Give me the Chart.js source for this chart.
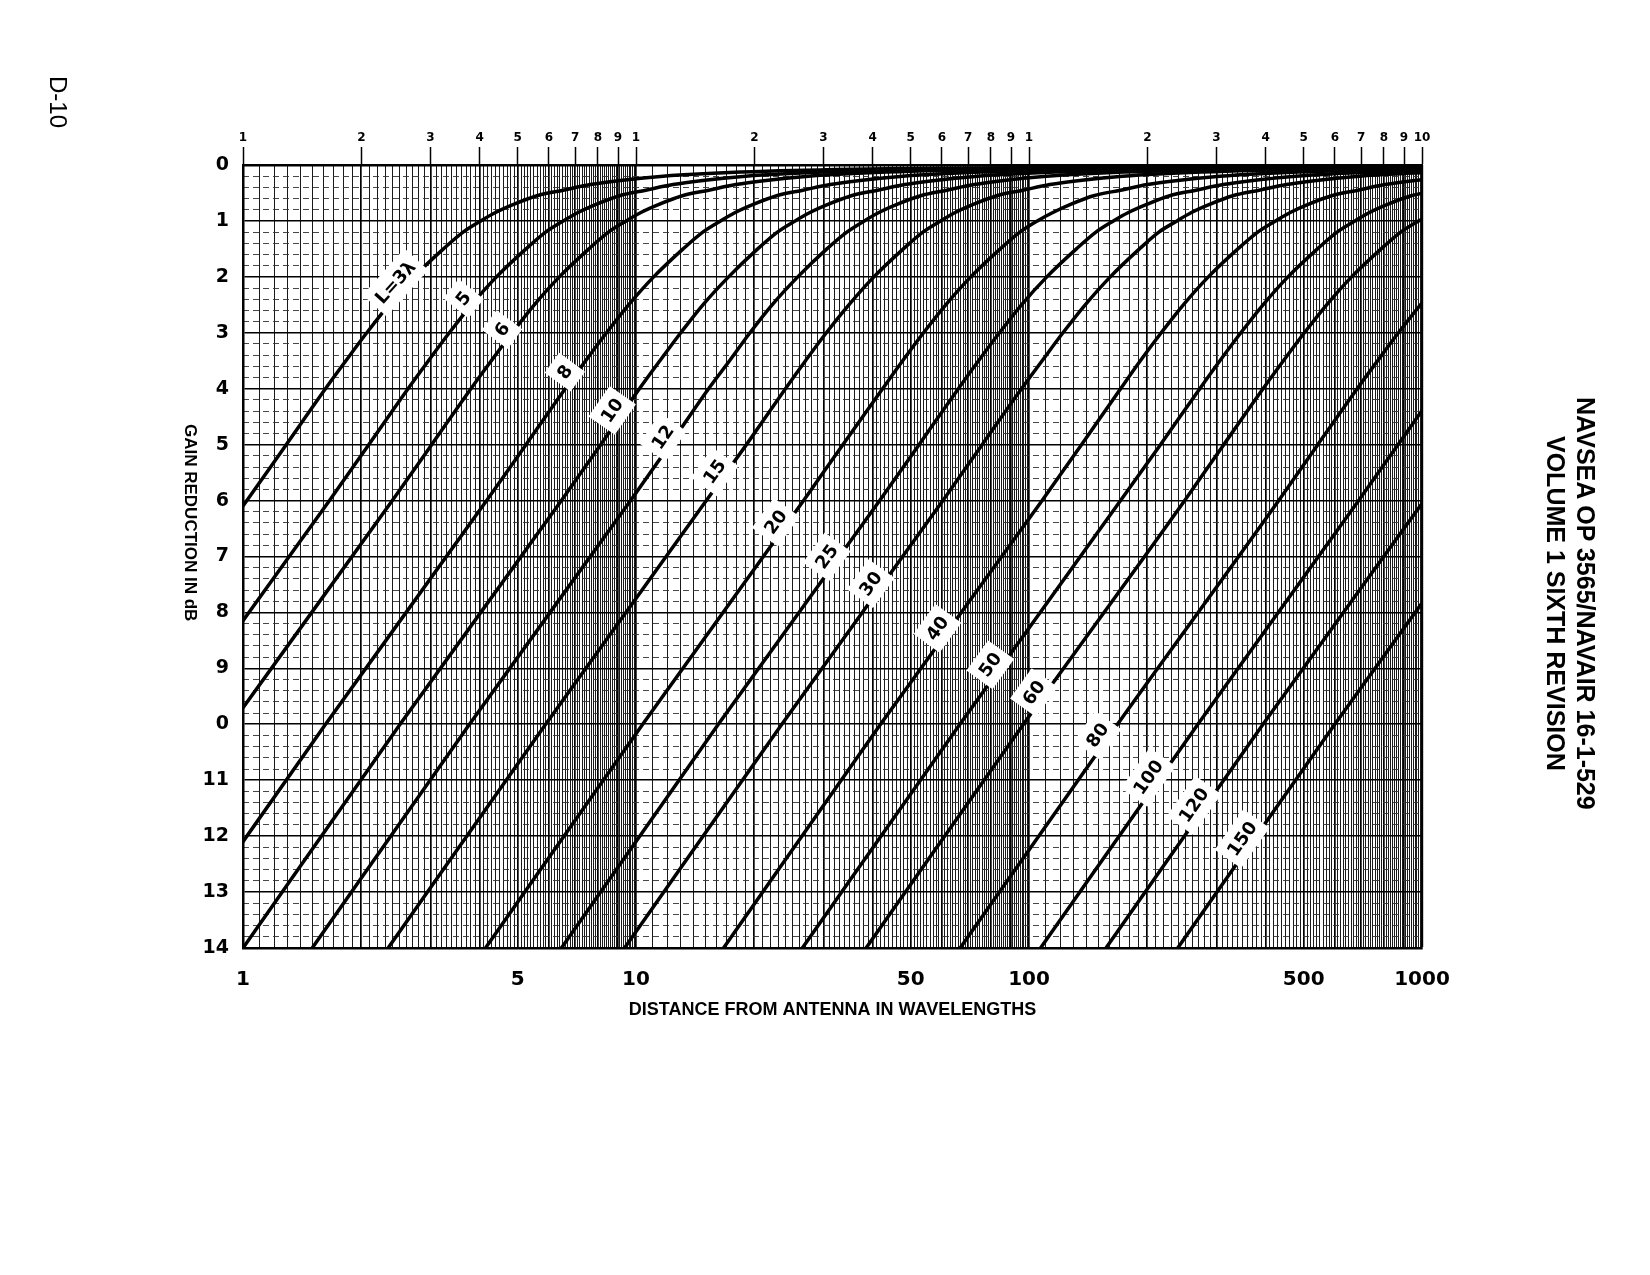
<!DOCTYPE html>
<html>
<head>
<meta charset="utf-8">
<title>Gain reduction vs distance from antenna</title>
<script src="https://cdn.jsdelivr.net/npm/chart.js@4.4.1/dist/chart.umd.min.js"></script>
<style>
  body { margin: 0; background: #fff; }
  #wrap { position: relative; width: 1650px; height: 1275px; overflow: hidden; }
  #grafico { position: absolute; left: 0; top: 0; }
  .vtext { position: absolute; writing-mode: vertical-rl; color: #000; white-space: nowrap; text-align: center;
           font-family: "Liberation Sans", Arial, sans-serif; }
  #pagina { left: 44px; top: 76px; font-size: 24px; font-weight: normal; line-height: 28px; }
  #referencia { left: 1541px; top: 353px; height: 500px; font-size: 25px; font-weight: bold; line-height: 30px; }
  #tituloY { left: 180px; top: 373px; height: 300px; font-size: 17px; font-weight: bold; line-height: 20px; }
</style>
</head>
<body>
<div id="wrap">
  <canvas id="grafico" width="1650" height="1275"></canvas>
  <div id="pagina" class="vtext">D-10</div>
  <div id="referencia" class="vtext">NAVSEA OP 3565/NAVAIR 16-1-529<br>VOLUME 1 SIXTH REVISION</div>
  <div id="tituloY" class="vtext">GAIN REDUCTION IN dB</div>
</div>
<script>
const gainLevels = [14, 10, 6, 5, 4, 3.5, 3, 2.5, 2, 1.5, 1.2, 1, 0.85, 0.7, 0.55, 0.45, 0.35, 0.28, 0.2, 0.16, 0.1, 0.06, 0.04, 0.02];

// distance from antenna (wavelengths) at those gain levels, one list per antenna length L
const distL3   = [0.158, 0.398, 1.023, 1.288, 1.621, 1.827, 2.065, 2.350, 2.723, 3.236, 3.631, 4.027, 4.390, 4.898, 5.598, 6.532, 7.657, 9.017, 11.72, 14.39, 25.12, 56.23, 158.5, 1259];
const distL5   = [0.257, 0.646, 1.660, 2.089, 2.630, 2.964, 3.349, 3.812, 4.416, 5.249, 5.889, 6.531, 7.120, 7.943, 9.079, 10.59, 12.42, 14.62, 19.01, 23.33, 40.74, 91.20, 257.0, 2042];
const distL6   = [0.372, 0.933, 2.399, 3.020, 3.801, 4.284, 4.841, 5.510, 6.383, 7.587, 8.512, 9.441, 10.29, 11.48, 13.12, 15.31, 17.95, 21.14, 27.48, 33.73, 58.89, 131.8, 371.5, 2951];
const distL8   = [0.646, 1.622, 4.169, 5.248, 6.605, 7.444, 8.413, 9.575, 11.09, 13.18, 14.79, 16.41, 17.88, 19.95, 22.80, 26.61, 31.19, 36.73, 47.75, 58.61, 102.3, 229.1, 645.7, 5128];
const distL10  = [1.0, 2.51, 6.46, 8.13, 10.2, 11.5, 13.0, 14.8, 17.2, 20.4, 22.9, 25.4, 27.7, 30.9, 35.3, 41.2, 48.3, 56.9, 74.0, 90.8, 158, 355, 1000, 7940];
const distL12  = [1.50, 3.77, 9.69, 12.2, 15.3, 17.3, 19.5, 22.2, 25.8, 30.6, 34.4, 38.1, 41.5, 46.3, 53.0, 61.8, 72.5, 85.3, 111, 136, 238, 532, 1500];
const distL15  = [2.34, 5.89, 15.1, 19.1, 24.0, 27.0, 30.5, 34.8, 40.3, 47.9, 53.7, 59.6, 64.9, 72.4, 82.8, 96.6, 113, 133, 173, 213, 372, 832, 2344];
const distL20  = [4.14, 10.4, 26.7, 33.6, 42.4, 47.7, 53.9, 61.4, 71.1, 84.5, 94.8, 105, 115, 128, 146, 171, 200, 236, 306, 376, 656, 1469];
const distL25  = [6.46, 16.2, 41.7, 52.5, 66.1, 74.4, 84.1, 95.7, 111, 132, 148, 164, 179, 200, 228, 266, 312, 367, 478, 586, 1023];
const distL30  = [9.35, 23.5, 60.4, 76.0, 95.7, 108, 122, 139, 161, 191, 214, 238, 259, 289, 330, 385, 452, 532, 692, 849, 1483];
const distL40  = [16.7, 41.9, 108, 136, 171, 192, 217, 247, 286, 340, 382, 424, 462, 515, 589, 687, 805, 948, 1233];
const distL50  = [26.5, 66.7, 171, 216, 272, 306, 346, 394, 456, 542, 608, 675, 735, 820, 938, 1094];
const distL60  = [38.5, 96.8, 249, 313, 394, 444, 502, 572, 662, 787, 883, 980, 1068];
const distL80  = [66.8, 168, 432, 543, 684, 771, 871, 991, 1148];
const distL100 = [107, 269, 690, 869, 1094];
const distL120 = [157, 394, 1012];
const distL150 = [239, 600, 1542];

const curveLabels = ['L=3λ', '5', '6', '8', '10', '12', '15', '20', '25', '30', '40', '50', '60', '80', '100', '120', '150'];
const curveDists = [distL3, distL5, distL6, distL8, distL10, distL12, distL15, distL20, distL25,
                    distL30, distL40, distL50, distL60, distL80, distL100, distL120, distL150];

// gain reduction at which each curve carries its label
const labelGain = [2.22, 2.50, 3.05, 3.81, 4.49, 4.97, 5.59, 6.49, 7.11, 7.59, 8.39, 9.04, 9.54, 10.30, 11.05, 11.55, 12.15];

// axis labels as printed
const bottomTickLabels = [1, 5, 10, 50, 100, 500, 1000];
const topTickLabels = ['1', '2', '3', '4', '5', '6', '7', '8', '9',
                       '1', '2', '3', '4', '5', '6', '7', '8', '9',
                       '1', '2', '3', '4', '5', '6', '7', '8', '9', '10'];
const gainTickLabels = ['0', '1', '2', '3', '4', '5', '6', '7', '8', '9', '0', '11', '12', '13', '14'];

// grid positions of the log paper: 1.0, 1.1 ... 9.9 in each decade
const gridDist = [];
const topTickValues = [];
for (let n = 0; n < 3; n++) {
  for (let k = 10; k < 100; k++) gridDist.push({ value: k * Math.pow(10, n) / 10, major: k % 10 === 0 });
  for (let k = 1; k < 10; k++) topTickValues.push(k * Math.pow(10, n));
}
gridDist.push({ value: 1000, major: true });
topTickValues.push(1000);

const gainMajor = [];
const gainMinor = [];
for (let i = 0; i <= 70; i++) {
  if (i % 5 === 0) gainMajor.push({ value: i / 5 });
  else gainMinor.push({ value: i / 5 });
}

const fonteNum = { family: 'DejaVu Sans', weight: 'bold' };

// rotulos das curvas: caixa branca girada ao longo da linha
const rotulosCurvas = {
  id: 'rotulosCurvas',
  afterDatasetsDraw(chart) {
    const { ctx, scales: { y } } = chart;
    ctx.save();
    ctx.font = 'bold 18px "DejaVu Sans"';
    ctx.textAlign = 'center';
    ctx.textBaseline = 'middle';
    curveLabels.forEach((txt, i) => {
      const py = y.getPixelForValue(labelGain[i]);
      const pts = chart.getDatasetMeta(i).data;
      let px = null;
      let ang = -0.96;
      for (let k = 1; k < pts.length; k++) {
        const a = pts[k - 1], b = pts[k];
        if (!a || !b || !isFinite(a.y) || !isFinite(b.y) || !isFinite(a.x) || !isFinite(b.x)) continue;
        if (a.y >= py && b.y <= py) {
          const t = (a.y - py) / ((a.y - b.y) || 1);
          px = a.x + t * (b.x - a.x);
          ang = Math.atan2(b.y - a.y, b.x - a.x);
          break;
        }
      }
      if (px === null) return;
      // o rotulo fica um pouco acima/esquerda da linha
      const cx = px + Math.sin(ang) * 10;
      const cy = py - Math.cos(ang) * 10;
      const w = ctx.measureText(txt).width;
      ctx.save();
      ctx.translate(cx, cy);
      ctx.rotate(ang);
      ctx.fillStyle = '#fff';
      ctx.fillRect(-w / 2 - 6, -16, w + 12, 32);
      ctx.fillStyle = '#000';
      ctx.fillText(txt, 0, 1);
      ctx.restore();
    });
    ctx.restore();
  }
};

const datasets = curveDists.map((dist, i) => ({
  label: curveLabels[i],
  xAxisID: 'x',
  yAxisID: 'y',
  data: dist.map((d, k) => ({ x: d, y: gainLevels[k] })),
  borderColor: '#000',
  borderWidth: 3.5,
  pointRadius: 0,
  fill: false,
  cubicInterpolationMode: 'monotone'
}));

new Chart(document.getElementById('grafico').getContext('2d'), {
  type: 'line',
  data: { datasets },
  plugins: [rotulosCurvas],
  options: {
    responsive: false,
    devicePixelRatio: 1,
    animation: false,
    layout: { padding: { left: 0, right: 228, top: 120, bottom: 254 } },
    plugins: { legend: { display: false }, tooltip: { enabled: false } },
    scales: {
      x: {
        type: 'logarithmic',
        position: 'bottom',
        min: 1,
        max: 1000,
        afterBuildTicks: s => { s.ticks = gridDist.map(t => ({ value: t.value, major: t.major })); },
        afterFit: s => { s.height = 73; },
        grid: {
          drawTicks: false,
          color: '#000',
          lineWidth: c => c.tick ? (c.tick.value === 1000 ? 2.2 : c.tick.major ? 1.7 : 0.9) : 1
        },
        border: { color: '#000', width: 2.5 },
        ticks: {
          autoSkip: false,
          maxRotation: 0,
          padding: 20,
          color: '#000',
          font: { ...fonteNum, size: 20 },
          callback: v => bottomTickLabels.find(b => Math.abs(b - v) < 1e-6) ? String(v) : ''
        },
        title: {
          display: true,
          text: 'DISTANCE FROM ANTENNA IN WAVELENGTHS',
          color: '#000',
          padding: 0,
          font: { family: 'Liberation Sans', size: 18, weight: 'bold' }
        }
      },
      xTop: {
        type: 'logarithmic',
        position: 'top',
        min: 1,
        max: 1000,
        afterBuildTicks: s => { s.ticks = topTickValues.map(v => ({ value: v })); },
        afterFit: s => { s.height = 45; },
        grid: { drawOnChartArea: false, drawTicks: true, tickLength: 18, tickWidth: 1.5, tickColor: '#000' },
        border: { color: '#000', width: 2.5 },
        ticks: {
          autoSkip: false,
          maxRotation: 0,
          padding: 2,
          color: '#000',
          font: { ...fonteNum, size: 12 },
          callback: (v, i) => topTickLabels[i]
        }
      },
      y: {
        type: 'linear',
        position: 'left',
        reverse: true,
        min: 0,
        max: 14,
        afterBuildTicks: s => { s.ticks = gainMajor.map(t => ({ value: t.value })); },
        afterFit: s => { s.width = 243; },
        grid: { drawTicks: false, color: '#000', lineWidth: 1.6 },
        border: { color: '#000', width: 2.5 },
        ticks: {
          autoSkip: false,
          padding: 14,
          color: '#000',
          font: { ...fonteNum, size: 19 },
          callback: v => gainTickLabels[Math.round(v)]
        }
      },
      yMinor: {
        type: 'linear',
        position: 'left',
        reverse: true,
        min: 0,
        max: 14,
        afterBuildTicks: s => { s.ticks = gainMinor.map(t => ({ value: t.value })); },
        afterFit: s => { s.width = 0; },
        grid: { drawTicks: false, color: '#333', lineWidth: 0.9 },
        border: { display: false, dash: [6, 4] },
        ticks: { display: false, autoSkip: false }
      }
    }
  }
});
</script>
</body>
</html>
